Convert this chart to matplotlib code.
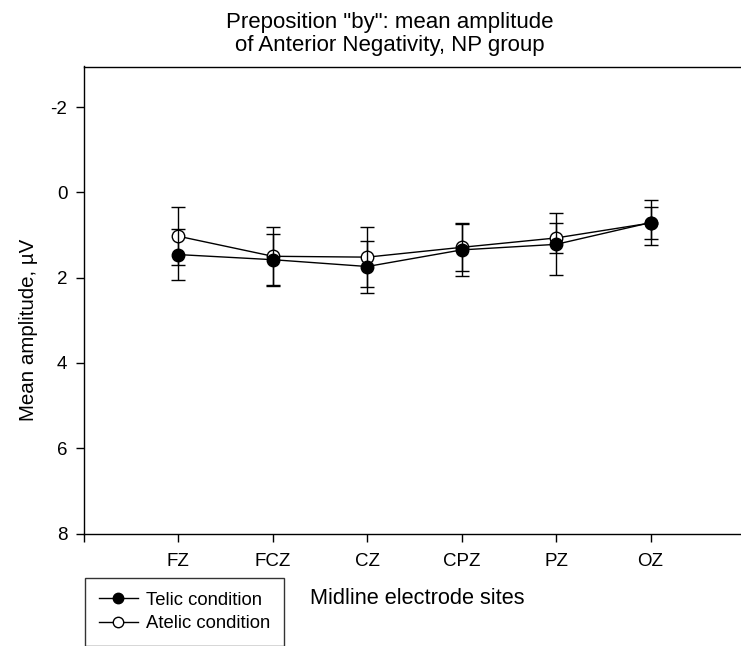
import matplotlib
matplotlib.use("Agg")
import matplotlib.pyplot as plt
from matplotlib.lines import Line2D

plt.rcParams['font.family'] = ['Liberation Sans', 'DejaVu Sans']

sites = ["FZ", "FCZ", "CZ", "CPZ", "PZ", "OZ"]
telic_mean = [1.46, 1.58, 1.74, 1.35, 1.22, 0.71]
telic_err = [0.59, 0.61, 0.61, 0.62, 0.73, 0.52]
atelic_mean = [1.03, 1.50, 1.52, 1.29, 1.07, 0.72]
atelic_err = [0.68, 0.68, 0.70, 0.55, 0.36, 0.37]
yticks = [-2, 0, 2, 4, 6, 8]

W, H = 741, 646
fig = plt.figure(figsize=(W / 100, H / 100), dpi=100)
ax = fig.add_axes([84 / W, 1 - 533.5 / H, (745 - 84) / W, (533.5 - 66.5) / H])

x = list(range(1, len(sites) + 1))
ax.errorbar(x, telic_mean, yerr=telic_err, color='black', marker='o', markersize=9,
            markerfacecolor='black', markeredgecolor='black', linewidth=1.0,
            elinewidth=1.0, capsize=5, capthick=1.0, zorder=3)
ax.errorbar(x, atelic_mean, yerr=atelic_err, color='black', marker='o', markersize=9,
            markerfacecolor='white', markeredgecolor='black', linewidth=1.0,
            elinewidth=1.0, capsize=5, capthick=1.0, zorder=2)

ax.set_xlim(0, 7)
ax.set_ylim(8, -2.95)
ax.set_xticks([0] + x)
ax.set_xticklabels([''] + sites)
ax.set_yticks(yticks)
ax.set_yticklabels([str(v) for v in yticks])
ax.tick_params(axis='both', direction='out', length=6, width=1, labelsize=13.5, colors='black')
ax.tick_params(axis='x', pad=8)
ax.tick_params(axis='y', pad=6)
for s in ax.spines.values():
    s.set_linewidth(1.0)

fig.text(390 / W, 1 - 34 / H, 'Preposition "by": mean amplitude\nof Anterior Negativity, NP group',
         ha='center', va='center', fontsize=16, linespacing=1.15)
fig.text(29 / W, 1 - 330 / H, 'Mean amplitude, \u00b5V', rotation=90, ha='center', va='center',
         fontsize=14.8)
fig.text(417 / W, 1 - 598 / H, 'Midline electrode sites', ha='center', va='center', fontsize=15.7)

handles = [
    Line2D([], [], color='black', marker='o', markersize=7.5, markerfacecolor='black',
           markeredgecolor='black', linewidth=1.0),
    Line2D([], [], color='black', marker='o', markersize=7.5, markerfacecolor='white',
           markeredgecolor='black', linewidth=1.0),
]
labels = ['Telic condition', 'Atelic condition']
leg = fig.legend(handles, labels, loc='upper left', bbox_to_anchor=(85 / W, 1 - 578 / H),
                 fontsize=13.3, frameon=True, fancybox=False, edgecolor='black',
                 handlelength=2.1, borderaxespad=0, borderpad=0.75, labelspacing=0.35,
                 handletextpad=0.45)
leg.get_frame().set_linewidth(1.0)

fig.savefig('out.png', dpi=100)
